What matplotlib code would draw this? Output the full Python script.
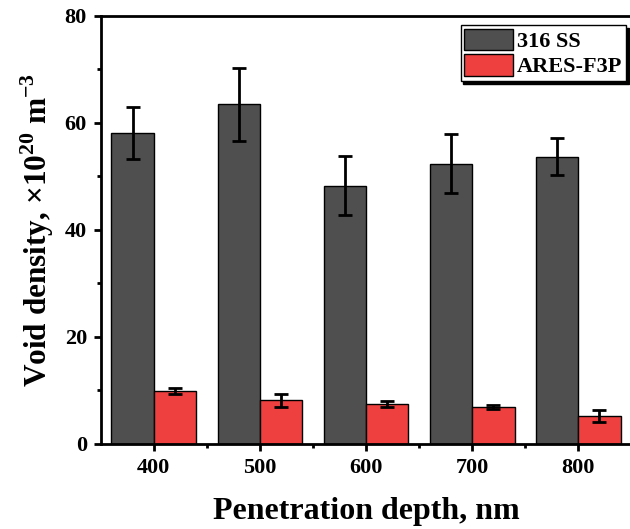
import numpy as np
import matplotlib
matplotlib.use('Agg')
import matplotlib.pyplot as plt

plt.rcParams['font.family'] = ['Liberation Serif', 'DejaVu Serif']
plt.rcParams['font.weight'] = 'bold'
plt.rcParams['mathtext.fontset'] = 'custom'
plt.rcParams['mathtext.rm'] = 'Liberation Serif:bold'
plt.rcParams['mathtext.bf'] = 'Liberation Serif:bold'

depth = [400, 500, 600, 700, 800]
ss316 = [58.1, 63.5, 48.3, 52.4, 53.7]
ss316_err = [4.8, 6.8, 5.5, 5.5, 3.4]
ares = [9.9, 8.2, 7.5, 6.9, 5.2]
ares_err = [0.6, 1.2, 0.6, 0.3, 1.1]

x = np.array(depth)
w = 40

fig = plt.figure(figsize=(6.3, 5.29), dpi=100)
ax = fig.add_axes([0.160, 0.1607, 0.842, 0.8091])

ekw = dict(elinewidth=2, capthick=2, ecolor='black')
ax.bar(x - w/2, ss316, w, yerr=ss316_err, capsize=5, color='#4f4f4f',
       edgecolor='black', linewidth=1, label='316 SS', error_kw=ekw)
ax.bar(x + w/2, ares, w, yerr=ares_err, capsize=5, color='#ef4040',
       edgecolor='black', linewidth=1, label='ARES-F3P', error_kw=ekw)

ax.set_xlim(350, 850)
ax.set_ylim(0, 80)
ax.set_xticks(depth)
ax.set_xticks([450, 550, 650, 750], minor=True)
ax.set_yticks([0, 20, 40, 60, 80])
ax.set_yticks([10, 30, 50, 70], minor=True)
ax.tick_params(which='major', length=5, width=2, labelsize=16, pad=5)
ax.tick_params(which='minor', length=3, width=2)
for s in ax.spines.values():
    s.set_linewidth(2)

ax.set_xlabel('Penetration depth, nm', fontsize=23, fontweight='bold', labelpad=14)
ax.set_ylabel(r'Void density, $\times$10$^{20}$ m$^{-3}$', fontsize=22.5,
              fontweight='bold', labelpad=6)

leg = ax.legend(loc='upper right', bbox_to_anchor=(0.990, 0.978), fontsize=16,
                frameon=True, fancybox=False, shadow={'color': 'black', 'alpha': 1},
                edgecolor='black', handlelength=2.2, handleheight=1.1,
                borderpad=0.15, labelspacing=0.1, handletextpad=0.2, borderaxespad=0)
leg.get_frame().set_linewidth(1)

fig.savefig('out.png', dpi=100)
